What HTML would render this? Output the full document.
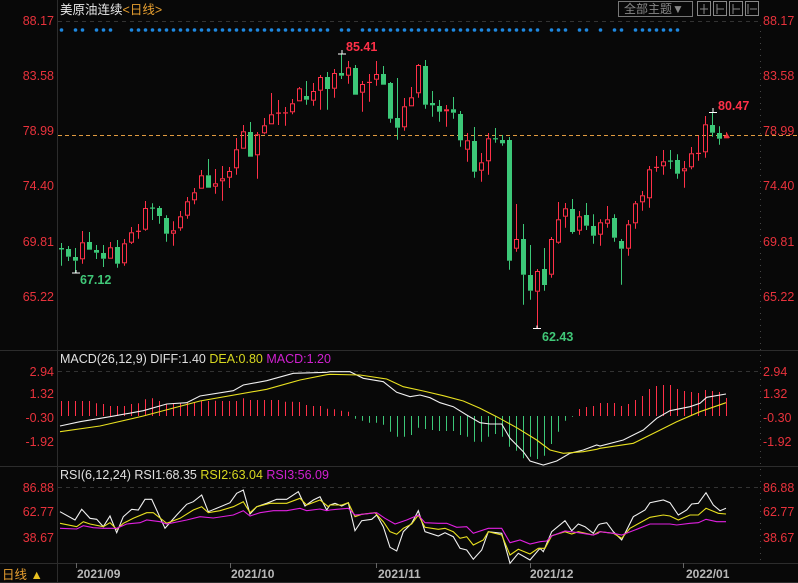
<!DOCTYPE html>
<html><head><meta charset="utf-8"><style>
html,body{margin:0;padding:0;background:#080808;}
svg{display:block;font-family:"Liberation Sans","Noto Sans CJK SC",sans-serif;}
</style></head><body>
<svg id="s" width="798" height="583" xmlns="http://www.w3.org/2000/svg">
<rect width="798" height="583" fill="#080808"/>
<g stroke="#2c2c2c" stroke-width="1">
<line x1="57.5" y1="0" x2="57.5" y2="583"/>
<line x1="0" y1="350.5" x2="798" y2="350.5"/>
<line x1="0" y1="466.5" x2="798" y2="466.5"/>
<line x1="0" y1="563.5" x2="798" y2="563.5"/>
<line x1="0" y1="582.5" x2="798" y2="582.5"/>
</g>
<line x1="760.5" y1="25" x2="760.5" y2="560" stroke="#444" stroke-dasharray="1,5"/>
<g stroke="#333" stroke-dasharray="4,4">
<line x1="58" y1="21.5" x2="760" y2="21.5"/>
<line x1="58" y1="371.5" x2="760" y2="371.5"/>
<line x1="58" y1="487.5" x2="760" y2="487.5"/>
</g>
<line x1="58" y1="135.5" x2="798" y2="135.5" stroke="#e09a40" stroke-dasharray="4,3"/>
<g fill="#e8323c" font-size="12.5">
<g text-anchor="end">
<text x="54" y="25">88.17</text><text x="54" y="80">83.58</text><text x="54" y="135">78.99</text>
<text x="54" y="190">74.40</text><text x="54" y="246">69.81</text><text x="54" y="301">65.22</text>
<text x="54" y="376">2.94</text><text x="54" y="398">1.32</text><text x="54" y="422">-0.30</text><text x="54" y="446">-1.92</text>
<text x="54" y="492">86.88</text><text x="54" y="516">62.77</text><text x="54" y="542">38.67</text>
</g>
<text x="763" y="25">88.17</text><text x="763" y="80">83.58</text><text x="763" y="135">78.99</text>
<text x="763" y="190">74.40</text><text x="763" y="246">69.81</text><text x="763" y="301">65.22</text>
<text x="763" y="376">2.94</text><text x="763" y="398">1.32</text><text x="763" y="422">-0.30</text><text x="763" y="446">-1.92</text>
<text x="763" y="492">86.88</text><text x="763" y="516">62.77</text><text x="763" y="542">38.67</text>
</g>
<text x="60" y="14" font-size="12.5" fill="#e8e8e8">美原油连续<tspan fill="#e8a030">&lt;日线&gt;</tspan></text>
<rect x="618.5" y="1.5" width="74" height="15" fill="none" stroke="#777"/>
<text x="624" y="13" font-size="12" fill="#888">全部主题▼</text>
<g fill="none" stroke="#888">
<rect x="697.5" y="1.5" width="13" height="14"/><rect x="713.5" y="1.5" width="13" height="14"/>
<rect x="729.5" y="1.5" width="13" height="14"/><rect x="745.5" y="1.5" width="13" height="14"/>
<path d="M704 4v10M700 9h8M717 4v10M717 9h7M733 4v10M733 9h7M748 4v10M750 9h7"/>
</g>
<text x="60" y="363" font-size="12.5" fill="#e0e0e0">MACD(26,12,9) DIFF:1.40 <tspan fill="#d8d820">DEA:0.80</tspan> <tspan fill="#d020d0">MACD:1.20</tspan></text>
<text x="60" y="479" font-size="12.5" fill="#e0e0e0">RSI(6,12,24) RSI1:68.35 <tspan fill="#d8d820">RSI2:63.04</tspan> <tspan fill="#d020d0">RSI3:56.09</tspan></text>
<g font-size="12" font-weight="bold" fill="#b8b8b8">
<text x="77" y="578">2021/09</text><text x="231" y="578">2021/10</text><text x="378" y="578">2021/11</text>
<text x="530" y="578">2021/12</text><text x="686" y="578">2022/01</text>
</g>
<g stroke="#666"><line x1="76.5" y1="563" x2="76.5" y2="568"/><line x1="230.5" y1="563" x2="230.5" y2="568"/><line x1="376.5" y1="563" x2="376.5" y2="568"/><line x1="530.5" y1="563" x2="530.5" y2="568"/><line x1="683.5" y1="563" x2="683.5" y2="568"/></g>
<text x="2" y="579" font-size="12.5" fill="#e8a030">日线 <tspan fill="#e8c020">▲</tspan></text>
<g id="cand"></g>
<g id="macd"></g>
<g id="lines"></g>
<g font-size="12.5" font-weight="bold">
<text x="346" y="51" fill="#ff3048">85.41</text>
<text x="80" y="284" fill="#40c878">67.12</text>
<text x="542" y="341" fill="#40c878">62.43</text>
<text x="718" y="110" fill="#ff3048">80.47</text>
</g>
<g stroke="#fff"><path d="M338 54h8M342 50v4M72 273h8M76 273v-3M533 328.5h8M537 328.5v-3M709 112.5h8M713 108v4"/></g>
<path d="M724 138l3-5 3 5z" fill="#e8323c"/>
</svg>
<script>
var NS="http://www.w3.org/2000/svg";
function el(p,t,a){var e=document.createElementNS(NS,t);for(var k in a)e.setAttribute(k,a[k]);p.appendChild(e);return e;}
var R="#ff3048",G="#3cc878";
var C=[
"g,248,249.5,243,265.7","g,249,256.7,246,261","g,257,260.7,248,273","r,242.3,259.3,231,263.7","g,242,249.7,232,249.7",
"g,250,252.7,245,259","g,253,258.7,245,267","r,247.3,258.7,242,258.7","g,247,263.7,240,267.7","r,243.3,263.3,239,265.7",
"r,232.3,242.7,227,244","r,230.7,231.5,224,238.7","r,208,229.7,201,230.7","g,207.5,208.5,203.3,220","g,208,216,206,223.7",
"g,218,233.7,215.3,241.7","r,230.3,233.7,221.3,245.7","r,216.3,228.3,211,230.7","r,201.3,215.7,197,218.7","r,192.3,200.3,188,204.3",
"r,175.3,188.7,170,188.7","g,175.3,187.7,159,187.7","r,183.3,186.7,169,193.7","r,178.3,181.3,166,200.7","r,171,177.7,167,188",
"r,149.3,168.3,138,174.7","r,131.3,148.7,125,148.7","g,132,156.7,122,156.7","r,134.3,155.3,132,178.7","r,125.3,133.3,118,134.3",
"r,114.3,124.3,93,124.3","r,112.5,113.5,100,125","r,112.3,113.5,107,125.7","r,103.3,112.3,99,114.3","r,88.3,101.3,87,101.3",
"g,96,99.7,81,104.7","r,91,100.7,83,105.7","r,77,90.7,75,109.7","g,77,89,72,109.7","r,73,88.7,69,97.7",
"g,73,75.7,54,79","r,67.3,75.7,61,83.7","g,68,94.7,65,94.7","r,84,92.7,81,111.7","r,81.8,82.8,74,101.7",
"r,74,79.7,61,85.7","g,74,84.7,66,84.7","g,83,118.7,82,122.7","g,118,127.7,78,139.7","r,106.3,127.3,98,130.7",
"r,97.3,106.3,87,106.3","r,65,93.3,64,97.7","g,66,104.7,60,108.7","g,103,105.3,91,116.7","g,106,111.7,100,121.7",
"r,109.3,111.3,105,126.7","g,109.3,112.7,97,118.7","g,114,140.3,111,146.7","r,140.3,149.7,133,161.7","g,141,171.7,127,177.7",
"r,162.3,170.7,153,181.7","r,138.3,161.3,133,174.7","g,138.2,139.2,128,142.7","g,140,143.3,135,145.7","g,140,260.7,137,269.7",
"r,239,248.7,204,251.7","g,239,274.7,224,304.7","g,275,290.7,245,299.7","r,271,291.7,269,328.7","g,269,285,248,290.7",
"r,239,274.7,237,277.7","r,219.3,242.7,202,243.7","r,208.3,216.7,203,227.7","g,209,232,199,233.7","r,216.3,230.7,211,234.7",
"g,215,225.7,203,230","g,226,235.7,214.3,243.7","r,222.3,234.7,219.3,245.7","r,219.3,223.7,206,227.7","g,218,237.7,214.3,241.7",
"g,241,248.7,239,284.7","r,224.3,248.7,220,255.7","r,203.3,223.3,201,228.7","r,195.3,202.3,191,210.7","r,169.3,198.3,166,207.7",
"r,166.8,167.8,156,171.7","r,161.3,166.3,150,174.7","g,160.5,161.5,150,169","g,160,173.7,154.3,178.7","r,168.3,171.3,161,187.7",
"r,153.3,167.3,147,169.3","r,152.8,153.8,135.7,160.7","r,124.3,152.3,116,157.7","g,125,132.7,112.7,136.7","g,133,138.7,126.3,144.7",
"r,136,138.3,132.3,138.3"];
var cg=document.getElementById("cand");
function cx(i){return 61.5+7*i;}
C.forEach(function(s,i){var a=s.split(","),c=a[0]=="r"?R:G,t=+a[1],b=+a[2],h=+a[3],l=+a[4],x=cx(i);
 el(cg,"line",{x1:x,x2:x,y1:h,y2:t,stroke:c});el(cg,"line",{x1:x,x2:x,y1:b,y2:l,stroke:c});
 var bh=Math.max(b-t,1);
 if(a[0]=="r"){ if(bh<2) el(cg,"rect",{x:x-2.5,y:t,width:5,height:1.2,fill:c}); else el(cg,"rect",{x:x-2,y:t+0.5,width:4,height:bh-1,fill:"none",stroke:c});}
 else el(cg,"rect",{x:x-2.5,y:t,width:5,height:Math.max(bh,1.2),fill:c});
});
var dots=[0,2,3,5,6,7];for(var i=10;i<=38;i++)dots.push(i);dots.push(40,41);for(i=43;i<=68;i++)dots.push(i);dots.push(70,71,72,74,75,77,79,80);for(i=82;i<=88;i++)dots.push(i);
dots.forEach(function(i){el(cg,"circle",{cx:cx(i),cy:30,r:1.8,fill:"#1e88e0"});});
var mg=document.getElementById("macd"),base=416;
var top1=[401,401,401,401,401,403.3,404,406,406,406,404,403.3,399.3,398.3,401,404,404,403.3,402.7,402,401,401,400.7,401,401,401,398.3,400,400,400,400,400,401.7,401.7,402,405,406,406,408.7,409.3,410.7,411.7];
var bot=[418.7,420.7,422.7,422.7,424.7,431.7,436.7,436.7,435,427.7,429,430,431,431,431,435,436.7,441.7,441.7,436.7,434,436.7,446.7,450.7,458.3,456.7,459,455.7,444,431.7,420.7,416.7];
var top2=[409,407,406,403,403,403,406,404,400,396,389,386,385,385,389,391,392,393,390,391,392,398];
top1.forEach(function(y,i){el(mg,"line",{x1:cx(i),x2:cx(i),y1:y,y2:base,stroke:R});});
bot.forEach(function(y,k){var i=42+k;el(mg,"line",{x1:cx(i),x2:cx(i),y1:base,y2:y,stroke:G});});
top2.forEach(function(y,k){var i=74+k;el(mg,"line",{x1:cx(i),x2:cx(i),y1:y,y2:base,stroke:R});});
function cv(a,ox,oy){return a.map(function(p){return (ox+p[0]/3).toFixed(1)+","+(oy+p[1]/3).toFixed(1);});}
function ln(pts,c){el(document.getElementById("lines"),"polyline",{points:pts.join(" "),fill:"none",stroke:c,"stroke-width":1.1});}
var W="#f0f0f0",Y="#e8e020",M="#e020e0";
ln(cv([[180,258],[240,245],[330,230],[430,212],[500,192],[560,188],[600,168],[700,152],[730,135],[800,122],[880,100],[980,97]],0,340)
 .concat(cv([[0,50],[60,50],[100,70],[160,80],[200,112],[240,125],[270,120],[300,128],[330,143],[370,155],[410,180],[450,203],[480,207],[515,207],[540,250],[580,290],[600,318],[640,330],[680,318],[720,295],[760,285],[800,270]],330,355))
 .concat(cv([[0,318],[70,300],[130,270],[170,235],[210,212],[270,200],[300,190],[320,172],[378,162]],600,340)),W);
ln(cv([[180,275],[300,258],[430,228],[600,183],[800,148],[900,120],[980,104]],0,340)
 .concat(cv([[0,58],[90,60],[170,72],[220,95],[280,108],[340,122],[400,138],[450,160],[500,185],[560,218],[620,255],[660,285],[700,295],[760,290],[800,283]],330,355))
 .concat(cv([[0,325],[100,310],[170,275],[230,245],[300,215],[378,188]],600,340)),Y);
ln(cv([[180,515],[225,540],[245,508],[270,535],[290,538],[310,560],[330,528],[350,578],[370,530],[395,508],[415,510],[435,478],[455,478],[495,565],[530,525],[560,493],[580,485],[605,465],[625,515],[650,505],[690,488],[710,460],[730,450],[750,522],[770,500],[800,490],[830,478],[860,478],[895,455],[915,498],[940,480],[960,470],[980,510]],0,340)
 .concat(cv([[0,105],[15,100],[35,108],[55,98],[75,182],[95,152],[125,148],[140,135],[160,170],[180,232],[200,243],[220,185],[245,160],[265,122],[285,185],[325,198],[345,188],[370,200],[390,235],[410,240],[430,268],[455,240],[475,185],[515,190],[540,280],[565,250],[600,270],[630,235],[640,245],[665,185],[705,152],[725,182],[745,162],[765,170],[790,190],[805,165]],330,470))
 .concat(cv([[0,552],[20,548],[40,575],[65,600],[100,530],[135,510],[150,488],[190,480],[210,488],[235,525],[260,510],[275,492],[295,490],[318,458],[340,495],[360,512],[378,505]],600,340)),W);
ln(cv([[180,550],[230,560],[250,545],[270,552],[310,560],[330,548],[350,568],[370,550],[400,535],[440,518],[460,518],[500,550],[540,535],[580,510],[605,500],[625,518],[660,512],[700,500],[730,485],[750,518],[770,500],[810,490],[860,490],[900,475],[920,495],[960,480],[985,500]],0,340)
 .concat(cv([[0,105],[35,105],[55,98],[75,140],[95,133],[135,128],[160,155],[180,185],[200,193],[220,175],[245,162],[265,135],[285,172],[325,178],[345,175],[370,185],[390,205],[410,200],[430,225],[460,210],[475,185],[515,195],[540,255],[565,238],[600,252],[625,235],[645,235],[665,197],[705,185],[725,192],[745,185],[790,195],[805,187]],330,470))
 .concat(cv([[0,575],[40,580],[65,595],[90,565],[150,532],[190,525],[210,528],[235,540],[270,525],[295,525],[318,505],[355,520],[378,522]],600,340)),Y);
ln(cv([[180,565],[230,567],[250,557],[280,563],[310,565],[350,565],[380,552],[420,548],[440,540],[480,545],[500,552],[560,540],[600,530],[640,534],[700,525],[730,512],[750,528],[780,518],[820,512],[860,512],[900,505],[920,512],[960,507],[980,512]],0,340)
 .concat(cv([[0,120],[20,118],[55,115],[75,135],[140,128],[165,145],[195,162],[230,150],[265,135],[285,158],[325,160],[350,160],[380,172],[410,170],[430,190],[475,175],[515,175],[540,218],[570,210],[600,222],[630,215],[650,213],[665,198],[705,183],[745,188],[790,195],[805,190]],330,470))
 .concat(cv([[0,575],[40,580],[65,585],[110,568],[150,552],[210,552],[230,555],[270,550],[295,548],[318,538],[350,545],[378,545]],600,340)),M);
</script>
</body></html>
